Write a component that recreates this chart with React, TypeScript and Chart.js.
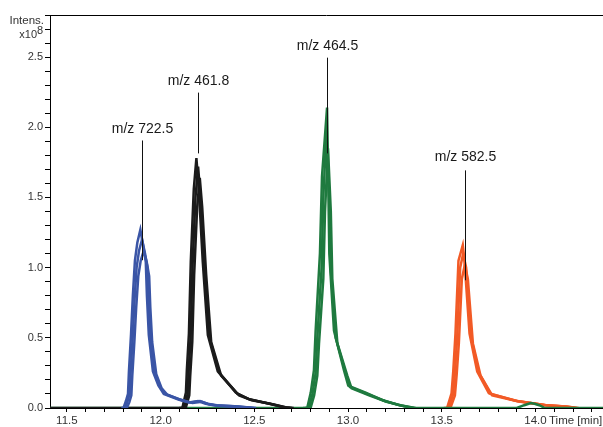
import React, { useEffect, useRef } from "react";
import { Chart, registerables } from "chart.js";
Chart.register(...registerables);

// ---- axis ranges ----
const xMin = 11.41;
const xMax = 14.36;
const yMax = 2.8;

// ---- m/z 722.5 (blue) replicate traces ----
const blueTimeA = [11.79, 11.802, 11.815, 11.826, 11.831, 11.842, 11.852, 11.863, 11.876, 11.892, 11.908, 11.921, 11.927, 11.937, 11.959, 11.988, 12.017, 12.095, 12.15, 12.2, 12.24, 12.29, 12.41, 12.49];
const blueA = [0, 0, 0.05, 0.1, 0.26, 0.52, 0.8, 1.05, 1.18, 1.27, 1.15, 1.04, 0.8, 0.52, 0.26, 0.16, 0.1, 0.06, 0.04, 0.05, 0.03, 0.02, 0.01, 0];
const blueTimeB = [11.8, 11.811, 11.824, 11.835, 11.84, 11.851, 11.861, 11.872, 11.885, 11.901, 11.917, 11.93, 11.936, 11.946, 11.968, 11.997, 12.026, 12.104, 12.16, 12.21, 12.25, 12.3, 12.42, 12.5];
const blueB = [0, 0, 0.05, 0.1, 0.25, 0.5, 0.77, 1.0, 1.12, 1.2, 1.1, 1.0, 0.77, 0.5, 0.25, 0.15, 0.1, 0.06, 0.04, 0.05, 0.03, 0.02, 0.01, 0];
const blueTimeC = [11.81, 11.82, 11.833, 11.844, 11.849, 11.86, 11.87, 11.881, 11.894, 11.91, 11.926, 11.939, 11.945, 11.955, 11.977, 12.006, 12.035, 12.113, 12.17, 12.22, 12.26, 12.31, 12.43, 12.51];
const blueC = [0, 0, 0.04, 0.09, 0.23, 0.47, 0.72, 0.94, 1.05, 1.12, 1.04, 0.94, 0.72, 0.47, 0.24, 0.14, 0.095, 0.055, 0.035, 0.045, 0.025, 0.015, 0.005, 0];

// ---- m/z 461.8 (black) ----
const blackTimeA = [11.41, 12.09, 12.116, 12.135, 12.14, 12.151, 12.161, 12.177, 12.191, 12.204, 12.225, 12.252, 12.305, 12.401, 12.468, 12.574, 12.654, 12.69];
const blackA = [0, 0, 0, 0.11, 0.27, 0.53, 1.04, 1.56, 1.78, 1.55, 1.04, 0.52, 0.26, 0.11, 0.065, 0.032, 0.006, 0];
const blackTimeB = [12.1, 12.125, 12.144, 12.149, 12.16, 12.17, 12.186, 12.2, 12.213, 12.234, 12.261, 12.314, 12.41, 12.477, 12.583, 12.663, 12.7];
const blackB = [0, 0, 0.1, 0.25, 0.5, 1.0, 1.5, 1.72, 1.5, 1.0, 0.5, 0.25, 0.1, 0.06, 0.03, 0.005, 0];
const blackTimeC = [12.11, 12.134, 12.153, 12.158, 12.169, 12.179, 12.195, 12.209, 12.222, 12.243, 12.27, 12.323, 12.419, 12.486, 12.592, 12.672, 12.71];
const blackC = [0, 0, 0.09, 0.23, 0.47, 0.95, 1.43, 1.64, 1.43, 0.95, 0.47, 0.23, 0.09, 0.055, 0.028, 0.004, 0];

// ---- m/z 464.5 (green) ----
const greenTimeA = [11.41, 12.75, 12.782, 12.801, 12.818, 12.827, 12.85, 12.861, 12.888, 12.894, 12.9, 12.925, 12.978, 13.001, 13.094, 13.187, 13.267, 13.34, 13.9, 13.94, 13.975, 13.995, 14.02, 14.05, 14.36];
const greenA = [0, 0, 0, 0.11, 0.27, 0.55, 1.1, 1.65, 2.14, 1.65, 1.1, 0.55, 0.27, 0.16, 0.11, 0.055, 0.022, 0, 0, 0.02, 0.035, 0.03, 0.02, 0, 0];
const greenTimeB = [12.76, 12.791, 12.81, 12.827, 12.836, 12.859, 12.868, 12.884, 12.899, 12.907, 12.934, 12.987, 13.01, 13.103, 13.196, 13.276, 13.35];
const greenB = [0, 0, 0.1, 0.25, 0.5, 1.0, 1.5, 1.95, 1.5, 1.0, 0.5, 0.25, 0.15, 0.1, 0.05, 0.02, 0];
const greenTimeC = [12.77, 12.8, 12.819, 12.836, 12.845, 12.868, 12.877, 12.893, 12.908, 12.916, 12.943, 12.996, 13.019, 13.112, 13.205, 13.285, 13.36];
const greenC = [0, 0, 0.09, 0.23, 0.46, 0.92, 1.4, 1.85, 1.4, 0.92, 0.46, 0.23, 0.14, 0.09, 0.045, 0.018, 0];

// ---- m/z 582.5 (orange) ----
const orangeTimeA = [13.51, 13.528, 13.552, 13.561, 13.573, 13.589, 13.612, 13.621, 13.648, 13.689, 13.751, 13.893, 14.048, 14.155, 14.21];
const orangeA = [0, 0, 0.105, 0.26, 0.53, 1.05, 1.16, 1.05, 0.53, 0.26, 0.105, 0.052, 0.021, 0.01, 0];
const orangeTimeB = [13.52, 13.537, 13.561, 13.57, 13.582, 13.598, 13.614, 13.63, 13.657, 13.698, 13.76, 13.902, 14.057, 14.164, 14.22];
const orangeB = [0, 0, 0.1, 0.25, 0.5, 1.0, 1.1, 1.0, 0.5, 0.25, 0.1, 0.05, 0.02, 0.01, 0];
const orangeTimeC = [13.53, 13.546, 13.57, 13.579, 13.591, 13.607, 13.623, 13.639, 13.666, 13.707, 13.769, 13.911, 14.066, 14.173, 14.23];
const orangeC = [0, 0, 0.09, 0.23, 0.46, 0.92, 1.02, 0.92, 0.46, 0.23, 0.09, 0.046, 0.018, 0.009, 0];

// ---- peak annotations ----
const annoLabels = ["m/z 722.5", "m/z 461.8", "m/z 464.5", "m/z 582.5"];
const annoTimes = [11.903, 12.201, 12.888, 13.626];
const annoLineTop = [1.906, 2.247, 2.496, 1.693];
const annoLineBottom = [1.053, 1.814, 1.814, 0.91];
const annoTextY = [1.99, 2.33, 2.58, 1.785];

const FONT = "'Liberation Sans', Arial, sans-serif";
const BLUE = "#3a55a6";
const BLACK = "#1b1b1b";
const GREEN = "#1f7a3f";
const ORANGE = "#f25a26";

function pts(t: number[], v: number[]) {
  return t.map((x, i) => ({ x, y: v[i] }));
}

const overlayPlugin = {
  id: "overlay",
  afterDraw(chart: any) {
    const { ctx, chartArea, scales } = chart;
    const xs = scales.x;
    const ys = scales.y;
    ctx.save();
    ctx.strokeStyle = "#000";
    ctx.lineWidth = 1;
    ctx.beginPath();
    const ty = Math.round(chartArea.top) + 0.5;
    ctx.moveTo(chartArea.left, ty);
    ctx.lineTo(chartArea.right, ty);
    ctx.stroke();

    ctx.font = "14px " + FONT;
    ctx.fillStyle = "#1a1a1a";
    ctx.textAlign = "center";
    ctx.textBaseline = "middle";
    for (let i = 0; i < annoLabels.length; i++) {
      const px = Math.round(xs.getPixelForValue(annoTimes[i])) + 0.5;
      ctx.strokeStyle = "#111";
      ctx.beginPath();
      ctx.moveTo(px, ys.getPixelForValue(annoLineTop[i]));
      ctx.lineTo(px, ys.getPixelForValue(annoLineBottom[i]));
      ctx.stroke();
      ctx.fillText(annoLabels[i], px, ys.getPixelForValue(annoTextY[i]));
    }

    ctx.fillStyle = "#333";
    ctx.font = "11.5px " + FONT;
    ctx.textAlign = "right";
    ctx.textBaseline = "alphabetic";
    ctx.fillText("Intens.", 44, 24);
    ctx.font = "11px " + FONT;
    ctx.fillText("x10", 37, 38);
    ctx.textAlign = "left";
    ctx.fillText("8", 37, 34);
    ctx.font = "11.5px " + FONT;
    ctx.textBaseline = "middle";
    ctx.fillText("Time [min]", 549, 421);
    ctx.restore();
  },
};

export default function App() {
  const ref = useRef<HTMLCanvasElement>(null);
  useEffect(() => {
    if (!ref.current) return;
    const mk = (t: number[], v: number[], c: string) => ({
      data: pts(t, v),
      borderColor: c,
      backgroundColor: c,
      borderWidth: 2.5,
      pointRadius: 0,
      tension: 0,
    });
    const chart = new Chart(ref.current, {
      type: "line",
      data: {
        datasets: [
          mk(blueTimeA, blueA, BLUE),
          mk(blueTimeB, blueB, BLUE),
          mk(blueTimeC, blueC, BLUE),
          mk(blackTimeA, blackA, BLACK),
          mk(blackTimeB, blackB, BLACK),
          mk(blackTimeC, blackC, BLACK),
          mk(greenTimeA, greenA, GREEN),
          mk(greenTimeB, greenB, GREEN),
          mk(greenTimeC, greenC, GREEN),
          mk(orangeTimeA, orangeA, ORANGE),
          mk(orangeTimeB, orangeB, ORANGE),
          mk(orangeTimeC, orangeC, ORANGE),
        ] as any,
      },
      options: {
        animation: false,
        responsive: false,
        maintainAspectRatio: false,
        layout: { padding: { top: 15, left: 0, right: 0, bottom: 0 } },
        plugins: { legend: { display: false }, tooltip: { enabled: false } },
        scales: {
          x: {
            type: "linear",
            min: xMin,
            max: xMax,
            afterFit: (s: any) => {
              s.height = 19;
            },
            border: { display: true, color: "#000", width: 1 },
            grid: { drawOnChartArea: false, drawTicks: true, tickLength: 4, color: "#000" },
            ticks: {
              stepSize: 0.1,
              maxTicksLimit: 100,
              includeBounds: false,
              autoSkip: false,
              maxRotation: 0,
              padding: 2,
              color: "#333",
              font: { family: FONT, size: 11.5 },
              callback: (v: any) => {
                const n = Math.round(Number(v) * 10);
                return n % 5 === 0 ? (n / 10).toFixed(1) : "";
              },
            },
          },
          y: {
            type: "linear",
            min: 0,
            max: yMax,
            afterFit: (s: any) => {
              s.width = 50;
            },
            border: { display: true, color: "#000", width: 1 },
            grid: { drawOnChartArea: false, drawTicks: true, tickLength: 5, color: "#000" },
            ticks: {
              stepSize: 0.1,
              maxTicksLimit: 100,
              includeBounds: false,
              autoSkip: false,
              padding: 2,
              color: "#333",
              font: { family: FONT, size: 11 },
              callback: (v: any) => {
                const n = Math.round(Number(v) * 10);
                return n % 5 === 0 && n <= 25 ? (n / 10).toFixed(1) : "";
              },
            },
          },
        },
      } as any,
      plugins: [overlayPlugin],
    });
    return () => chart.destroy();
  }, []);
  return (
    <div style={{ position: "absolute", left: 0, top: 0, width: 603, height: 427, background: "#fff" }}>
      <canvas ref={ref} width={603} height={427} />
    </div>
  );
}
